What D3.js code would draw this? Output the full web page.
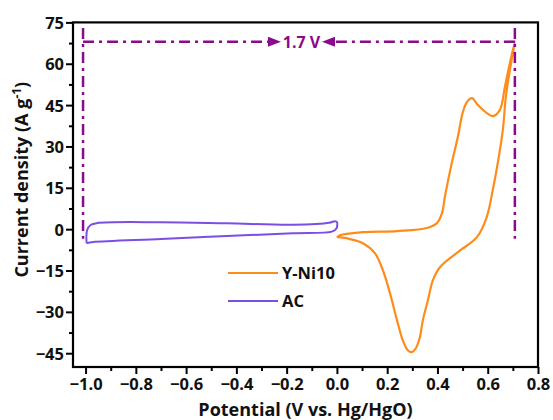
<!DOCTYPE html>
<html>
<head>
<meta charset="utf-8">
<script src="https://cdn.jsdelivr.net/npm/d3@7"></script>
<style>
  body { margin: 0; background: #fff; }
  text { font-family: "Open Sans", sans-serif; font-weight: bold; }
</style>
</head>
<body>
<script>
// Y-Ni10 CV loop (V, A/g)
var niPotential = [0.00, 0.012, 0.103, 0.239, 0.358, 0.398, 0.418, 0.43, 0.457, 0.481, 0.50, 0.517, 0.537, 0.561, 0.596, 0.62, 0.648, 0.668, 0.688, 0.708,
                   0.688, 0.672, 0.66, 0.64, 0.62, 0.596, 0.557, 0.489, 0.41, 0.382, 0.362, 0.342, 0.33, 0.314, 0.298, 0.282, 0.262, 0.239, 0.211, 0.183, 0.151, 0.103, 0.052, 0.004, 0.00];
var niCurrent   = [-3.0, -2.2, -1.1, -0.7, 0.4, 2.2, 5.8, 12.0, 24.0, 33.4, 42.1, 46.1, 47.5, 45.0, 42.1, 41.0, 43.2, 51.5, 60.2, 68.0,
                   57.7, 47.9, 35.9, 24.0, 14.2, 4.4, -2.9, -7.8, -13.8, -18.5, -25.8, -33.0, -39.2, -43.2, -44.6, -43.9, -40.3, -33.0, -23.2, -14.9, -8.7, -5.1, -3.6, -2.9, -3.0];

// AC CV loop
var acPotential = [-0.996, -0.994, -0.98, -0.954, -0.70, -0.437, -0.175, -0.03, -0.008, 0.00, -0.002, -0.02, -0.175, -0.437, -0.70, -0.97, -0.996];
var acCurrent   = [-5.1, -0.4, 1.5, 2.2, 2.5, 2.1, 1.6, 2.3, 2.9, 2.6, 0.2, -0.9, -1.5, -2.5, -3.6, -4.7, -5.1];

var seriesNames = ["Y-Ni10", "AC"];
var seriesColors = ["#ff8c1a", "#7b4fe6"];

var xTicks = [-1.0, -0.8, -0.6, -0.4, -0.2, 0.0, 0.2, 0.4, 0.6, 0.8];
var yTicks = [-45, -30, -15, 0, 15, 30, 45, 60, 75];

// window annotation
var windowLeft = -1.01, windowRight = 0.708, windowTop = 68, windowBottom = -3.5;
var windowLabel = "1.7 V";

var width = 553, height = 420;
var margin = {left: 73, right: 15, top: 22.4, bottom: 53};

var svg = d3.select("body").append("svg")
    .attr("width", width)
    .attr("height", height);

var x = d3.scaleLinear().domain([-1.05, 0.8]).range([margin.left, width - margin.right]);
var y = d3.scaleLinear().domain([-50, 75]).range([height - margin.bottom, margin.top]);

var annColor = "#8b0a8b";

// axes
var xAxis = svg.append("g")
    .attr("transform", "translate(0," + y.range()[0] + ")")
    .call(d3.axisBottom(x).tickValues(xTicks).tickSize(7).tickFormat(d3.format(".1f")));
svg.append("g")
    .attr("transform", "translate(0," + y.range()[0] + ")")
    .call(d3.axisBottom(x).tickValues(d3.range(-0.9, 0.8, 0.2)).tickSize(4).tickFormat(""));

var yAxis = svg.append("g")
    .attr("transform", "translate(" + x.range()[0] + ",0)")
    .call(d3.axisLeft(y).tickValues(yTicks).tickSize(7));
svg.append("g")
    .attr("transform", "translate(" + x.range()[0] + ",0)")
    .call(d3.axisLeft(y).tickValues(d3.range(-37.5, 75, 15)).tickSize(4).tickFormat(""));

svg.selectAll(".domain").remove();
svg.selectAll(".tick line").attr("stroke", "#000").attr("stroke-width", 2);
svg.selectAll(".tick text").attr("fill", "#111").style("font-size", "16.5px");
xAxis.selectAll(".tick text").attr("dy", "0.8em");
yAxis.selectAll(".tick text").attr("x", -9).attr("dy", "0.36em");

// frame
svg.append("rect")
    .attr("x", x.range()[0]).attr("y", y.range()[1])
    .attr("width", x.range()[1] - x.range()[0])
    .attr("height", y.range()[0] - y.range()[1])
    .attr("fill", "none").attr("stroke", "#000").attr("stroke-width", 2.2);

// curves
var line = d3.line()
    .x(function(d){ return x(d[0]); })
    .y(function(d){ return y(d[1]); })
    .curve(d3.curveCatmullRom.alpha(0.5));

var niData = niPotential.map(function(v, i){ return [v, niCurrent[i]]; });
var acData = acPotential.map(function(v, i){ return [v, acCurrent[i]]; });

svg.append("path").datum(acData)
    .attr("d", line)
    .attr("fill", "none").attr("stroke", seriesColors[1]).attr("stroke-width", 2);
svg.append("path").datum(niData)
    .attr("d", line)
    .attr("fill", "none").attr("stroke", seriesColors[0]).attr("stroke-width", 2.2);

// annotation lines
var dash = "11,5,3,5";
var ann = svg.append("g").attr("stroke", annColor).attr("stroke-width", 2.5).attr("stroke-dasharray", dash).attr("fill", "none");
ann.append("line").attr("x1", x(windowLeft)).attr("x2", x(windowLeft)).attr("y1", y(73)).attr("y2", y(windowBottom));
ann.append("line").attr("x1", x(windowRight)).attr("x2", x(windowRight)).attr("y1", y(73)).attr("y2", y(windowBottom));
ann.append("line").attr("x1", x(windowLeft)).attr("x2", 270).attr("y1", y(windowTop)).attr("y2", y(windowTop));
ann.append("line").attr("x1", x(windowRight)).attr("x2", 333).attr("y1", y(windowTop)).attr("y2", y(windowTop));

var ay = y(windowTop);
svg.append("path").attr("d", "M268," + (ay - 5) + "L281," + ay + "L268," + (ay + 5) + "Z").attr("fill", annColor);
svg.append("path").attr("d", "M335," + (ay - 5) + "L322," + ay + "L335," + (ay + 5) + "Z").attr("fill", annColor);
svg.append("text").attr("x", 301.5).attr("y", ay + 6).attr("text-anchor", "middle")
    .attr("fill", annColor).style("font-size", "16px").text(windowLabel);

// legend
var legend = svg.append("g");
seriesNames.forEach(function(name, i){
    var ly = 273 + i * 28;
    legend.append("line").attr("x1", 228).attr("x2", 278).attr("y1", ly).attr("y2", ly)
        .attr("stroke", seriesColors[i]).attr("stroke-width", 2);
    legend.append("text").attr("x", 282).attr("y", ly + 6).attr("fill", "#111")
        .style("font-size", "16.5px").text(name);
});

// axis titles
svg.append("text")
    .attr("x", (x.range()[0] + x.range()[1]) / 2).attr("y", 416)
    .attr("text-anchor", "middle").attr("fill", "#111")
    .style("font-size", "18px")
    .text("Potential (V vs. Hg/HgO)");

var yt = svg.append("text")
    .attr("transform", "translate(28," + ((y.range()[0] + y.range()[1]) / 2 - 15) + ") rotate(-90)")
    .attr("text-anchor", "middle").attr("fill", "#111")
    .style("font-size", "18px");
yt.append("tspan").text("Current density (A g");
yt.append("tspan").attr("dy", -7).style("font-size", "12px").text("-1");
yt.append("tspan").attr("dy", 7).text(")");
</script>
</body>
</html>
